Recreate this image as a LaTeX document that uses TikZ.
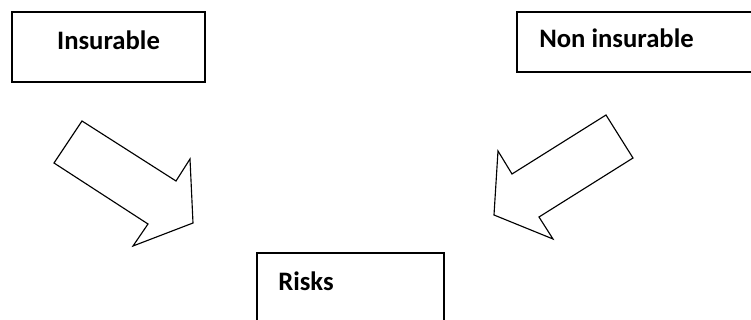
\documentclass[tikz,border=0pt]{standalone}
\usepackage{fontspec}
\setmainfont{Carlito}
\begin{document}
\begin{tikzpicture}[x=0.75pt,y=-0.75pt,
  lbl/.style={font=\bfseries\fontsize{20}{24}\selectfont, inner sep=0pt},
  frame/.style={draw=black, line width=1pt},
  blockarrow/.style={draw=black, line width=0.85pt, line join=miter, fill=white}]
\useasboundingbox (0,0) rectangle (751,320);
% Insurable box
\node[frame, rectangle, minimum width=144.75pt, minimum height=52.5pt, inner sep=0pt] (insbox) at (108.5,47) {};
\node[lbl, anchor=base] (ins) at (108.5,50) {Insurable};
% Non insurable box (runs off the right edge)
\coordinate (n1) at (760,12);
\coordinate (n2) at (517,12);
\coordinate (n3) at (517,72);
\coordinate (n4) at (760,72);
\draw[frame] (n1) -- (n2) -- (n3) -- (n4);
\node[lbl, anchor=base west] (non) at (539,48) {Non insurable};
% Risks box (runs off the bottom edge)
\coordinate (r1) at (257,330);
\coordinate (r2) at (257,253);
\coordinate (r3) at (444,253);
\coordinate (r4) at (444,330);
\draw[frame] (r1) -- (r2) -- (r3) -- (r4);
\node[lbl, anchor=base west] (risks) at (278,291) {Risks};
% left block arrow
\draw[blockarrow] (82,121) -- (176,181) -- (190,159) -- (193,223) -- (133,246) -- (148,224) -- (54,163) -- cycle;
% right block arrow
\draw[blockarrow] (606,115) -- (633,158) -- (539,217) -- (553,239) -- (494,215) -- (498,151) -- (512,174) -- cycle;
\end{tikzpicture}
\end{document}
